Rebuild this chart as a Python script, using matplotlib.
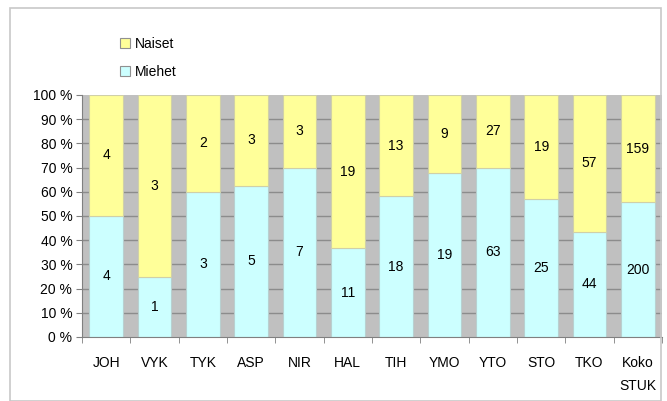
import matplotlib.pyplot as plt
import numpy as np
from matplotlib.patches import Rectangle

plt.rcParams['font.family'] = ['Liberation Sans', 'DejaVu Sans']

categories = ["JOH", "VYK", "TYK", "ASP", "NIR", "HAL", "TIH", "YMO", "YTO", "STO", "TKO", "Koko\nSTUK"]
miehet = [4, 1, 3, 5, 7, 11, 18, 19, 63, 25, 44, 200]
naiset = [4, 3, 2, 3, 3, 19, 13, 9, 27, 19, 57, 159]

m = np.array(miehet, dtype=float)
n = np.array(naiset, dtype=float)
tot = m + n
mp = m / tot * 100
np_ = n / tot * 100

fig = plt.figure(figsize=(6.67, 4.01), dpi=100)
fig.patches.append(Rectangle((10 / 667, 0 / 401), 651 / 667, 393 / 401, transform=fig.transFigure,
                             fill=False, edgecolor="#c8c8c8", linewidth=1.2))

ax = fig.add_axes([82 / 667, 1 - 337 / 401, 580 / 667, 242 / 401])
ax.set_facecolor("#c0c0c0")
x = np.arange(len(categories))
ax.set_xlim(-0.5, len(categories) - 0.5)
ax.set_ylim(0, 100)

for y in range(10, 100, 10):
    ax.axhline(y, color="#8c8c8c", linewidth=1, zorder=1)

b1 = ax.bar(x, mp, width=0.7, color="#ccffff", edgecolor="#b8d0d0", linewidth=0.8, zorder=2, label="Miehet")
b2 = ax.bar(x, np_, bottom=mp, width=0.7, color="#ffff99", edgecolor="#d0d0a8", linewidth=0.8, zorder=2, label="Naiset")

for i in range(len(categories)):
    ax.text(x[i], mp[i] / 2, str(miehet[i]), ha="center", va="center", fontsize=10, zorder=3)
    ax.text(x[i], mp[i] + np_[i] / 2, str(naiset[i]), ha="center", va="center", fontsize=10, zorder=3)

ax.set_yticks(range(0, 101, 10))
ax.set_yticklabels([f"{v} %" for v in range(0, 101, 10)], fontsize=10)
ax.set_xticks(x)
ax.set_xticklabels(categories, fontsize=10, linespacing=1.75)
ax.set_xticks(np.arange(-0.5, len(categories), 1), minor=True)
ax.tick_params(axis="x", which="major", length=0, pad=14)
ax.tick_params(axis="x", which="minor", length=4, color="#808080")
ax.tick_params(axis="y", length=4, color="#808080", pad=3)
for s in ["top", "right"]:
    ax.spines[s].set_visible(False)
for s in ["left", "bottom"]:
    ax.spines[s].set_color("#808080")

leg = fig.legend(handles=[b2, b1], labels=["Naiset", "Miehet"], loc="upper left",
                 bbox_to_anchor=(108 / 667, 1 - 24 / 401), frameon=False, fontsize=10,
                 handlelength=0.7, handleheight=0.7, handletextpad=0.3, labelspacing=1.05)
for h in leg.legend_handles:
    h.set_edgecolor("#909090")

fig.savefig("out.png", dpi=100)
